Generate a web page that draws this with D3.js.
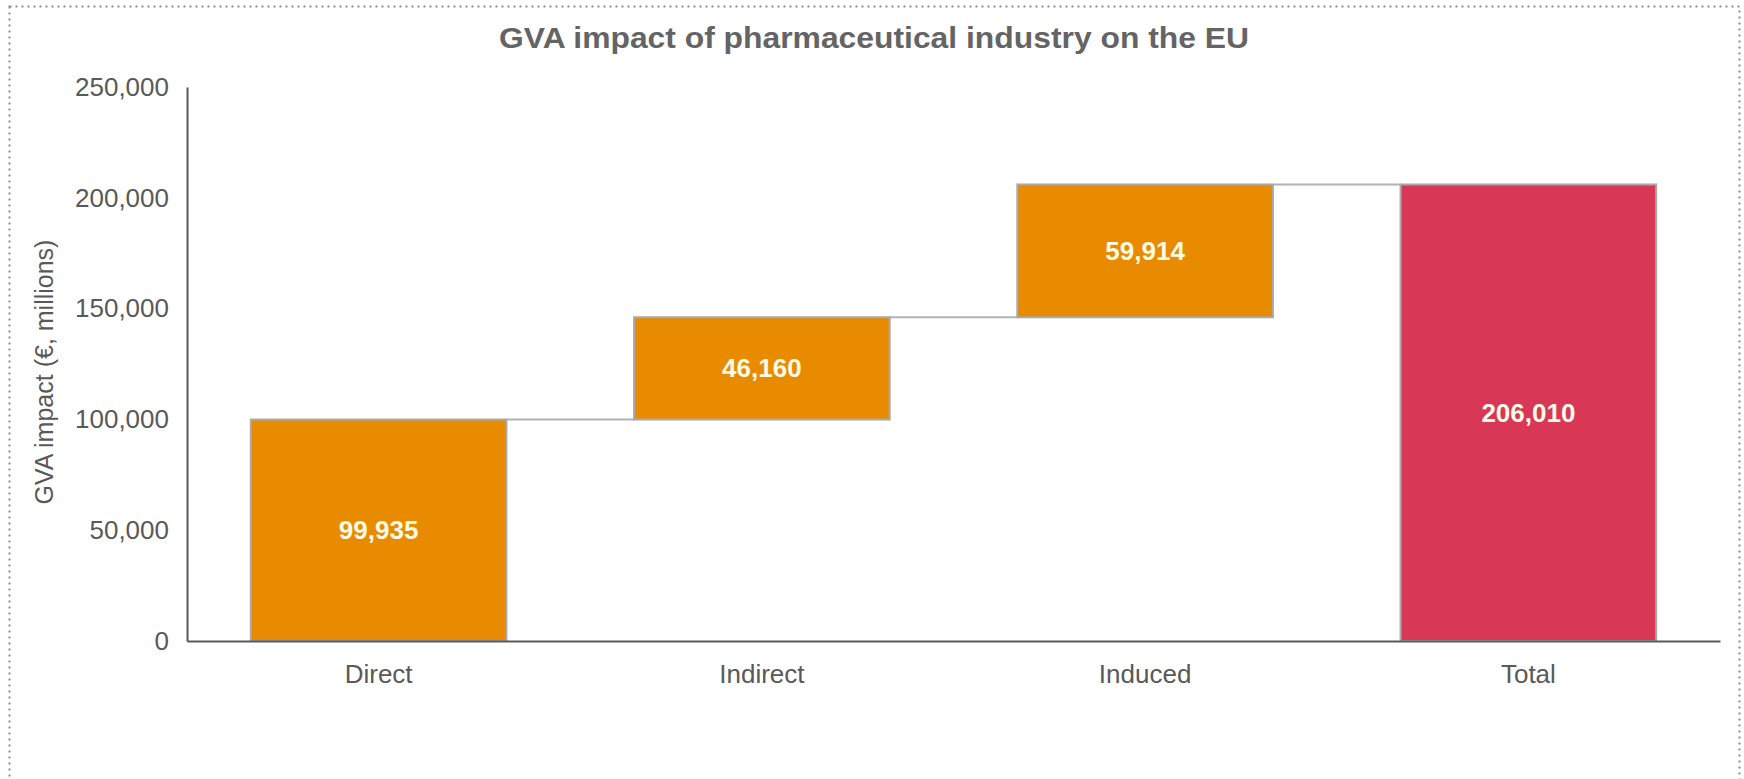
<!DOCTYPE html>
<html lang="en">
<head>
    <meta charset="UTF-8">
    <title>GVA impact waterfall</title>
    <script src="https://d3js.org/d3.v7.min.js"></script>
    <style>
        body { margin: 0; background: #fff; }
        svg { display: block; font-family: "Liberation Sans", Arial, sans-serif; }
    </style>
</head>
<body>
    <svg width="1744" height="779"></svg>
    <script>
        // data
        const categories = ["Direct", "Indirect", "Induced", "Total"];
        const values = [99935, 46160, 59914, 206010];
        const isTotal = [false, false, false, true];
        const yTicks = [0, 50000, 100000, 150000, 200000, 250000];

        const svg = d3.select("svg");

        // dotted frame
        svg.append("rect")
            .attr("x", 9.5).attr("y", 6.5)
            .attr("width", 1730).attr("height", 800)
            .attr("fill", "none")
            .attr("stroke", "#8c8c8c")
            .attr("stroke-width", 2)
            .attr("stroke-dasharray", "2,4");

        const x = d3.scaleBand()
            .domain(categories)
            .range([187, 1720])
            .paddingInner(0.333)
            .paddingOuter(0.1665);

        const y = d3.scaleLinear()
            .domain([0, 250000])
            .range([641, 87]);

        // waterfall start/end
        let run = 0;
        const steps = categories.map((c, i) => {
            let lo, hi;
            if (isTotal[i]) { lo = 0; hi = values[i]; }
            else { lo = run; hi = run + values[i]; run = hi; }
            return { cat: c, lo, hi, value: values[i], total: isTotal[i] };
        });

        // title
        svg.append("text")
            .attr("x", 874).attr("y", 48)
            .attr("text-anchor", "middle")
            .attr("font-size", 29)
            .attr("font-weight", "bold")
            .attr("fill", "#646464")
            .attr("textLength", 750)
            .attr("lengthAdjust", "spacingAndGlyphs")
            .text("GVA impact of pharmaceutical industry on the EU");

        // y axis title
        svg.append("text")
            .attr("transform", "translate(53,372) rotate(-90)")
            .attr("text-anchor", "middle")
            .attr("font-size", 25)
            .attr("fill", "#595959")
            .text("GVA impact (€, millions)");

        // connectors
        svg.append("g").selectAll("line")
            .data(steps.slice(0, -1))
            .join("line")
            .attr("x1", d => x(d.cat) + x.bandwidth())
            .attr("x2", (d, i) => x(categories[i + 1]))
            .attr("y1", d => y(d.hi))
            .attr("y2", d => y(d.hi))
            .attr("stroke", "#b3b3b3")
            .attr("stroke-width", 2);

        // bars
        svg.append("g").selectAll("rect")
            .data(steps)
            .join("rect")
            .attr("x", d => x(d.cat))
            .attr("y", d => y(d.hi))
            .attr("width", x.bandwidth())
            .attr("height", d => y(d.lo) - y(d.hi))
            .attr("fill", d => d.total ? "#d83756" : "#e98b00")
            .attr("stroke", "#a9a9a9")
            .attr("stroke-width", 2);

        // value labels
        svg.append("g").selectAll("text")
            .data(steps)
            .join("text")
            .attr("x", d => x(d.cat) + x.bandwidth() / 2)
            .attr("y", d => (y(d.lo) + y(d.hi)) / 2)
            .attr("dy", "0.35em")
            .attr("text-anchor", "middle")
            .attr("font-size", 26)
            .attr("font-weight", "bold")
            .attr("fill", "#fdfbe6")
            .text(d => d3.format(",")(d.value));

        // axes
        const yAxis = svg.append("g")
            .attr("transform", "translate(187,0)")
            .call(d3.axisLeft(y).tickValues(yTicks).tickFormat(d3.format(","))
                .tickSize(0).tickPadding(18));
        const xAxis = svg.append("g")
            .attr("transform", "translate(0,641)")
            .call(d3.axisBottom(x).tickSize(0).tickPadding(24));

        [yAxis, xAxis].forEach(g => {
            g.select(".domain").attr("stroke", "#595959").attr("stroke-width", 2);
            g.selectAll("text")
                .attr("font-family", "'Liberation Sans', Arial, sans-serif")
                .attr("font-size", 26)
                .attr("fill", "#595959");
        });
    </script>
</body>
</html>
